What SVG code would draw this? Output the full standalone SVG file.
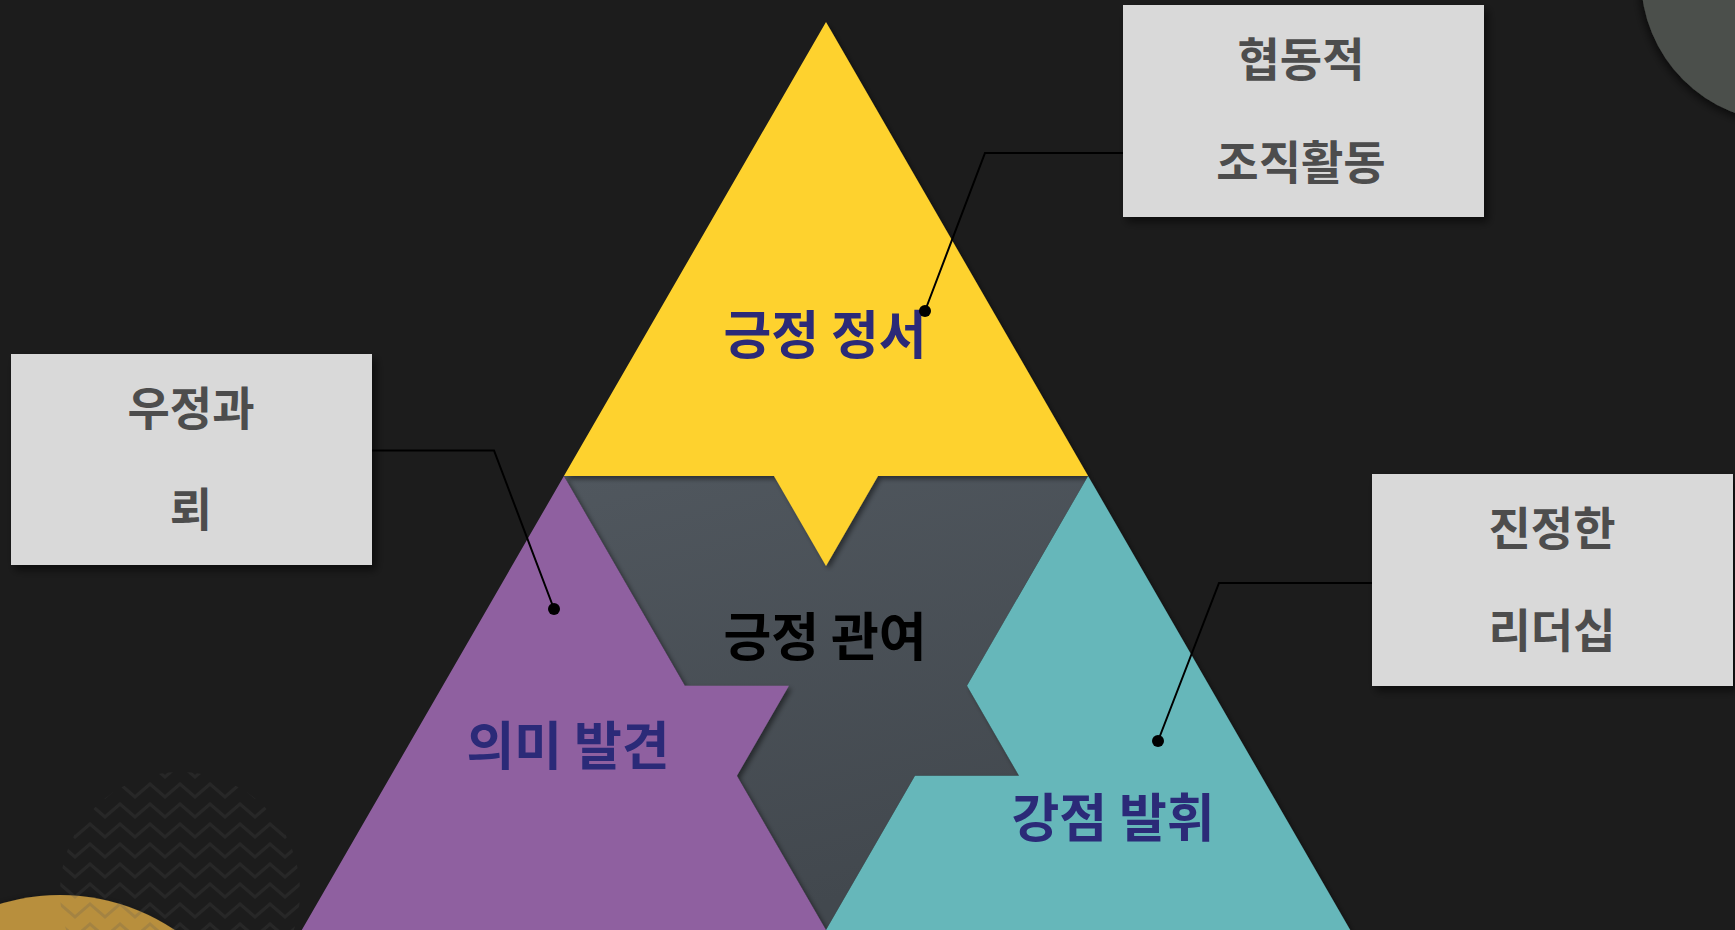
<svg xmlns="http://www.w3.org/2000/svg" width="1735" height="930" viewBox="0 0 1735 930">
  <defs>
    <style>
      .lbl { font-family: "Noto Sans CJK KR", "Noto Sans", sans-serif; font-weight: 700; font-size: 52px; text-anchor: middle; dominant-baseline: central; }
      .navy { fill: #2b2a78; }
      .blk { fill: #000000; }
      .box { fill: #d9d9d9; filter: url(#boxShadow); }
      .btxt { font-family: "Noto Sans CJK KR", "Noto Sans", sans-serif; font-weight: 700; font-size: 46px; fill: #4d4d4d; text-anchor: middle; dominant-baseline: central; }
      .lead { fill: none; stroke: #000000; stroke-width: 2; }
      .dot { fill: #000000; }
      .piece { filter: url(#pieceShadow); }
    </style>
    <linearGradient id="grayGrad" x1="0" y1="0" x2="0.3" y2="1">
      <stop offset="0" stop-color="#50575e"/>
      <stop offset="1" stop-color="#42484e"/>
    </linearGradient>
    <filter id="pieceShadow" x="-10%" y="-10%" width="120%" height="120%">
      <feDropShadow dx="3" dy="3" stdDeviation="2.5" flood-color="#000000" flood-opacity="0.45"/>
    </filter>
    <filter id="boxShadow" x="-10%" y="-10%" width="125%" height="130%">
      <feDropShadow dx="4" dy="5" stdDeviation="4" flood-color="#000000" flood-opacity="0.55"/>
    </filter>
    <filter id="circShadow" x="-20%" y="-20%" width="140%" height="140%">
      <feDropShadow dx="-2" dy="3" stdDeviation="4" flood-color="#000000" flood-opacity="0.6"/>
    </filter>
    <pattern id="zigzag" patternUnits="userSpaceOnUse" width="30" height="20">
      <path d="M-15,17 L0,4 L15,17 L30,4 L45,17" fill="none" stroke="#555555" stroke-opacity="0.2" stroke-width="3"/>
    </pattern>
  </defs>

  <rect x="0" y="0" width="1735" height="930" fill="#1c1c1c"/>

  <g id="decor">
    <circle cx="1785" cy="-22" r="144" fill="#4b4f4b" filter="url(#circShadow)"/>
    <circle cx="60" cy="1101" r="206" fill="#b88f3e" filter="url(#circShadow)"/>
    <circle cx="180" cy="892" r="120" fill="url(#zigzag)"/>
  </g>

  <g id="node-center">
    <polygon points="563.9,476 1088.1,476 967,685.7 1019,775.8 915,775.8 826,930" fill="url(#grayGrad)"/>
    <text class="lbl blk" x="825" y="633">긍정 관여</text>
  </g>

  <g id="node-top">
    <polygon class="piece" points="826,22 1088.1,476 878,476 826,566 774,476 563.9,476" fill="#fed22f"/>
    <text class="lbl navy" x="825" y="331">긍정 정서</text>
  </g>

  <g id="node-left">
    <polygon class="piece" points="563.9,476 684.9,685.7 788.9,685.7 736.9,775.8 826,930 301.8,930" fill="#8f61a0"/>
    <text class="lbl navy" x="568" y="742">의미 발견</text>
  </g>

  <g id="node-right">
    <polygon class="piece" points="1088.1,476 1350.2,930 826,930 915,775.8 1019,775.8 967,685.7" fill="#66b7ba"/>
    <text class="lbl navy" x="1113" y="814">강점 발휘</text>
  </g>

  <g id="box-top">
    <rect class="box" x="1123" y="5" width="361" height="212"/>
    <text class="btxt" x="1301" y="56">협동적</text>
    <text class="btxt" x="1301" y="159">조직활동</text>
  </g>

  <g id="box-left">
    <rect class="box" x="11" y="354" width="361" height="211"/>
    <text class="btxt" x="191" y="405">우정과</text>
    <text class="btxt" x="191" y="506">뢰</text>
  </g>

  <g id="box-right">
    <rect class="box" x="1372" y="474" width="361" height="212"/>
    <text class="btxt" x="1552" y="525">진정한</text>
    <text class="btxt" x="1552" y="627">리더십</text>
  </g>

  <g id="connectors">
    <polyline class="lead" points="1123,153 985,153 925,311"/>
    <circle class="dot" cx="925" cy="311" r="6"/>
    <polyline class="lead" points="372,450.5 494,450.5 554,609"/>
    <circle class="dot" cx="554" cy="609" r="6"/>
    <polyline class="lead" points="1372,583 1219,583 1158,741"/>
    <circle class="dot" cx="1158" cy="741" r="6"/>
  </g>
</svg>
